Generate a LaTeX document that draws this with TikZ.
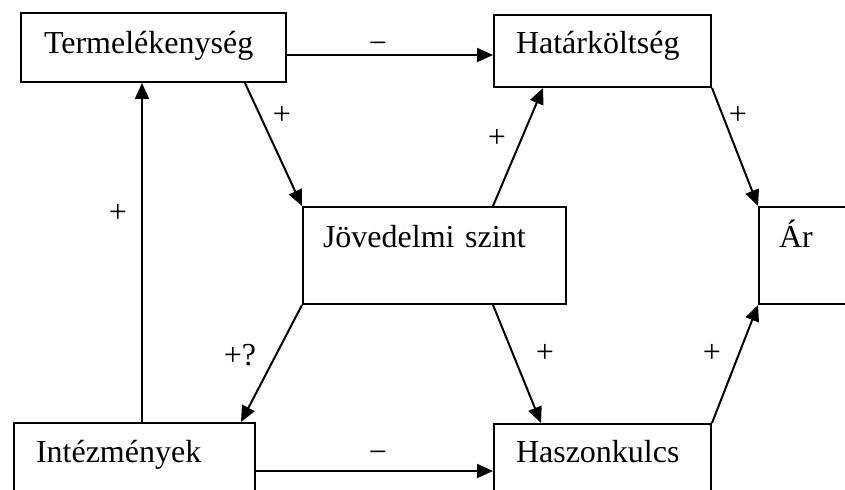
\documentclass[tikz,border=0pt]{standalone}
\usepackage{fontspec}
\setmainfont{Liberation Serif}
\usetikzlibrary{arrows.meta}

\tikzset{
  box/.style={draw,line width=1pt,anchor=north west,inner ysep=0pt,align=left},
  lbl/.style={inner sep=0pt},
  link/.style={line width=1pt,-{Triangle[length=8pt,width=7pt]}}
}

\begin{document}
\begin{tikzpicture}[x=0.5pt,y=-0.5pt,font=\fontsize{16pt}{19pt}\selectfont]
  \useasboundingbox (0,0) rectangle (845,490);
  \clip (0,0) rectangle (845,490);
  % boxes
  \node[box,inner xsep=11.5pt,text width=109.5pt,text height=20.5pt,text depth=14pt] (termel) at (20,12) {Termelékenység};
  \node[box,inner xsep=11pt,text width=86.5pt,text height=19.5pt,text depth=16.5pt] (hatar) at (493,14) {Határköltség};
  \node[box,inner xsep=10pt,text width=111.5pt,text height=20.5pt,text depth=28pt] (jov) at (302,206) {Jövedelmi szint};
  \node[box,inner xsep=10pt,text width=50pt,text height=20.5pt,text depth=28pt] (ar) at (758,206) {Ár};
  \node[box,inner xsep=11pt,text width=98.5pt,text height=20pt,text depth=30pt] (inte) at (13,422) {Intézmények};
  \node[box,inner xsep=11pt,text width=86.5pt,text height=19.5pt,text depth=30pt] (hasz) at (493,423) {Haszonkulcs};
  % links
  \draw[link] ([yshift=-3.75pt]termel.east) coordinate (t1) -- (t1 -| hatar.west);
  \draw[link] ([xshift=-21pt]termel.south east) -- (jov.north west);
  \draw[link] ([xshift=95.5pt]jov.north west) -- ([xshift=25pt]hatar.south west);
  \draw[link] (hatar.south east) -- (ar.north west);
  \draw[link] ([xshift=64.5pt]inte.north west) coordinate (i1) -- (i1 |- termel.south);
  \draw[link] (jov.south west) -- ([xshift=-7.5pt]inte.north east);
  \draw[link] ([xshift=95.5pt]jov.south west) -- ([xshift=24pt]hasz.north west);
  \draw[link] (hasz.north east) -- (ar.south west);
  \draw[link] ([yshift=-24.5pt]inte.north east) coordinate (i2) -- (i2 -| hasz.west);
  % signs
  \node[lbl] (m1) at (378,48) {−};
  \node[lbl] (p1) at (282,115) {+};
  \node[lbl] (p2) at (497,138) {+};
  \node[lbl] (p3) at (738,115) {+};
  \node[lbl] (p4) at (118,213) {+};
  \node[lbl] (p5) at (240,355) {+?};
  \node[lbl] (p6) at (545,353) {+};
  \node[lbl] (p7) at (712,353) {+};
  \node[lbl] (m2) at (378,457) {−};
\end{tikzpicture}
\end{document}
